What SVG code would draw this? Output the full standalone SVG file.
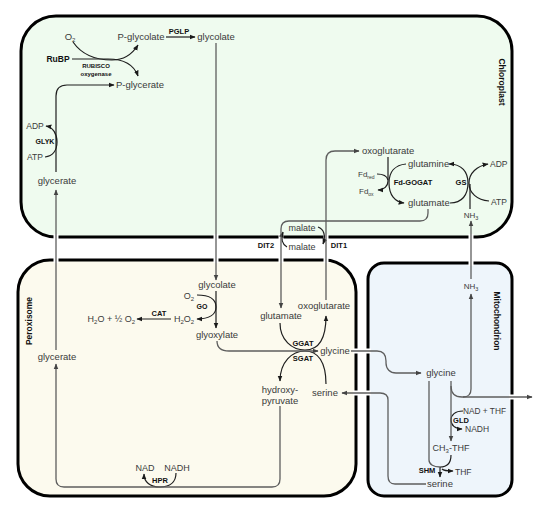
<svg xmlns="http://www.w3.org/2000/svg" width="535" height="509" viewBox="0 0 535 509">
<defs>
<marker id="ab" viewBox="0 0 10 10" refX="9" refY="5" markerWidth="6" markerHeight="6" orient="auto" markerUnits="userSpaceOnUse"><path d="M0,1 L10,5 L0,9 z" fill="#1a1a1a"/></marker>
<marker id="ag" viewBox="0 0 10 10" refX="9" refY="5" markerWidth="6" markerHeight="6" orient="auto" markerUnits="userSpaceOnUse"><path d="M0,1 L10,5 L0,9 z" fill="#444"/></marker>
<style>
.box{stroke:#000;stroke-width:3}
.t{font-family:"Liberation Sans",Arial,sans-serif;font-size:9.5px;fill:#3a3a3a;text-anchor:middle}
.st{text-anchor:start}
.en{text-anchor:end}
.sm{font-size:8.5px}
.s9{font-size:9px}
.s8{font-size:8px}
.b{font-family:"Liberation Sans",Arial,sans-serif;font-weight:bold;font-size:7.5px;fill:#111;text-anchor:middle}
.lab{font-family:"Liberation Sans",Arial,sans-serif;font-weight:bold;font-size:8.5px;fill:#111;text-anchor:middle}
.k{fill:none;stroke:#1e1e1e;stroke-width:1.2;marker-end:url(#ab)}
.g{fill:none;stroke:#5e5e5e;stroke-width:1.3;marker-end:url(#ag)}
.n{marker-end:none}
.gap{fill:#fff}
</style>
</defs>

<g id="chloroplast"><rect class="box" x="21" y="16" width="491" height="221" rx="35" fill="#effbef"/>
<text class="lab" transform="translate(502,82) rotate(90)" dy="3">Chloroplast</text></g>
<g id="peroxisome"><rect class="box" x="18" y="260" width="338" height="236" rx="32" fill="#fcfaee"/>
<text class="lab" transform="translate(29,321) rotate(-90)" dy="3">Peroxisome</text></g>
<g id="mitochondrion"><rect class="box" x="368" y="263" width="144" height="233" rx="16" fill="#eef5fb"/>
<text class="lab" transform="translate(497,321) rotate(90)" dy="3">Mitochondrion</text></g>

<g id="membrane-gaps">
<rect class="gap" x="53.5" y="234" width="5" height="6"/>
<rect class="gap" x="213.5" y="234" width="5" height="6"/>
<rect class="gap" x="278.5" y="234" width="5" height="6"/>
<rect class="gap" x="323.5" y="234" width="5" height="6"/>
<rect class="gap" x="468.5" y="234" width="5" height="6"/>
<rect class="gap" x="53.5" y="257" width="5" height="6"/>
<rect class="gap" x="213.5" y="257" width="5" height="6"/>
<rect class="gap" x="278.5" y="257" width="5" height="6"/>
<rect class="gap" x="323.5" y="257" width="5" height="6"/>
<rect class="gap" x="468.5" y="260" width="5" height="6"/>
<rect class="gap" x="353" y="348.5" width="6" height="5"/>
<rect class="gap" x="365" y="348.5" width="6" height="5"/>
<rect class="gap" x="353" y="390.5" width="6" height="5"/>
<rect class="gap" x="365" y="390.5" width="6" height="5"/>
<rect class="gap" x="509" y="394.5" width="6" height="5"/>
</g>

<g id="connectors">
<path class="k" d="M166,37 H195"/>
<path class="k" d="M73,42 C82,55 97,60 112,60 C124,60 133,53 138,45"/>
<path class="k" d="M72,59 H108 C124,59 134,65 138,76"/>
<path class="k" d="M171,319 H137"/>
<path class="k" d="M197,295 C211,295 216,300 216,307 C216,314 210,319 197,319"/>
<path class="k" d="M45,157 C53,156 57,150 57,142 C57,134 53,127 46,126"/>
<path class="k" d="M176,473 C176,482 170,487 160,487 C150,487 144,482 144,474"/>
<path class="k" d="M280,323 C280,340 292,350 305,350 C318,350 326,340 326,316"/>
<path class="k" d="M326,384 C326,362 318,351 305,351 C292,351 280,362 280,381"/>
<path class="k" d="M388,157 V181 C388,186 384,190 378,190"/>
<path class="k n" d="M377,174 C383,174 387,176 388,180"/>
<path class="k" d="M406,164 C395,165 389,172 389,183 C389,195 395,202 404,203"/>
<path class="k" d="M450,203 C462,203 468,195 468,183 C468,172 462,164 449,164"/>
<path class="k" d="M489,201 C477,200 469,193 469,183 C469,173 477,166 488,164"/>
<path class="k n" d="M470,209 V184"/>
<path class="k" d="M463,411 C455,411 451,415 451,420 C451,425 455,429 462,429"/>
<path class="k n" d="M451,455 C451,463 447,467 440,467"/>
<path class="k" d="M440,467 V477"/>
<path class="k" d="M442,469 C444,471 447,471 453,471"/>
<path class="k" d="M318,227 C324,229 326,236 323,244"/>
<path class="k" d="M287,247 C282,244 281,238 283,232"/>
<path class="k" d="M56,172 V96 C56,89 60,85 67,85 H114"/>
<path class="k" d="M216,291 V328"/>
<path class="g" d="M216,43 V280"/>
<path class="g" d="M217,341 C217,348 221,351 229,351 H318"/>
<path class="g" d="M56,350 V190"/>
<path class="g" d="M280,406 V479 C280,484 277,487 272,487 H64 C59,487 56,484 56,479 V364"/>
<path class="g" d="M428,209 V213 C428,218 425,221 420,221 H289 C284,221 281,224 281,229 V308"/>
<path class="g" d="M326,300 V160 C326,154 329,151 335,151 H359"/>
<path class="g" d="M351,351 H377 C383,351 386,355 386,361 V363 C386,369 390,373 396,373 H421"/>
<path class="g" d="M426,484 H395 C390,484 388,481 388,476 V400 C388,395 385,393 380,393 H342"/>
<path class="g n" d="M429,381 V460 C429,464 433,467 440,467"/>
<path class="g" d="M451,381 V441"/>
<path class="g" d="M451,386 C451,393 455,397 462,397 H532"/>
<path class="g" d="M463,397 C468,397 471,394 471,389 V294"/>
<path class="g" d="M471,279 V221"/>
</g>

<g id="n-o2-chl"><text class="t" x="70" y="40">O<tspan style="font-size:6px" dy="2">2</tspan></text></g>
<g id="n-pglycolate"><text class="t" x="141" y="40">P-glycolate</text></g>
<g id="e-pglp"><text class="b" x="179" y="33.5">PGLP</text></g>
<g id="n-glycolate-chl"><text class="t" x="216" y="40">glycolate</text></g>
<g id="n-rubp"><text class="b" x="58" y="62" style="font-size:8.5px">RuBP</text></g>
<g id="e-rubisco"><text class="b" x="96" y="68" style="font-size:6px">RUBISCO</text><text class="b" x="96" y="76" style="font-size:6px">oxygenase</text></g>
<g id="n-pglycerate"><text class="t" x="140" y="88">P-glycerate</text></g>
<g id="n-adp-glyk"><text class="t sm" x="35" y="129">ADP</text></g>
<g id="e-glyk"><text class="b" x="45" y="144" style="font-size:7px">GLYK</text></g>
<g id="n-atp-glyk"><text class="t sm" x="35" y="160">ATP</text></g>
<g id="n-glycerate-chl"><text class="t" x="57" y="184">glycerate</text></g>
<g id="n-oxoglutarate-chl"><text class="t st" x="362" y="154">oxoglutarate</text></g>
<g id="n-glutamine"><text class="t st" x="408" y="167">glutamine</text></g>
<g id="n-glutamate-chl"><text class="t st" x="408" y="206">glutamate</text></g>
<g id="n-fdred"><text class="t st s8" x="358" y="177">Fd<tspan style="font-size:5px" dy="1.5">red</tspan></text></g>
<g id="n-fdox"><text class="t st s8" x="359" y="194">Fd<tspan style="font-size:5px" dy="1.5">ox</tspan></text></g>
<g id="e-fdgogat"><text class="b" x="413" y="184.5">Fd-GOGAT</text></g>
<g id="e-gs"><text class="b" x="461" y="184.5">GS</text></g>
<g id="n-adp-gs"><text class="t sm st" x="490" y="167">ADP</text></g>
<g id="n-atp-gs"><text class="t sm st" x="491" y="205">ATP</text></g>
<g id="n-nh3-chl"><text class="t s8" x="471" y="218">NH<tspan style="font-size:5.5px" dy="1.5">3</tspan></text></g>
<g id="n-malate-chl"><text class="t s9" x="302" y="231">malate</text></g>
<g id="n-malate-cyt"><text class="t s9" x="302" y="250">malate</text></g>
<g id="e-dit2"><text class="b" x="266" y="248">DIT2</text></g>
<g id="e-dit1"><text class="b" x="339" y="248">DIT1</text></g>

<g id="n-glycolate-per"><text class="t" x="217" y="288">glycolate</text></g>
<g id="n-o2-per"><text class="t s9" x="189" y="299">O<tspan style="font-size:6px" dy="2">2</tspan></text></g>
<g id="e-go"><text class="b" x="202" y="308.5" style="font-size:7px">GO</text></g>
<g id="n-h2o2"><text class="t s9" x="184" y="322">H<tspan style="font-size:6px" dy="2">2</tspan><tspan dy="-2">O</tspan><tspan style="font-size:6px" dy="2">2</tspan></text></g>
<g id="e-cat"><text class="b" x="159" y="315.5">CAT</text></g>
<g id="n-h2o"><text class="t s9 en" x="135" y="322">H<tspan style="font-size:6px" dy="2">2</tspan><tspan dy="-2">O + ½ O</tspan><tspan style="font-size:6px" dy="2">2</tspan></text></g>
<g id="n-glyoxylate"><text class="t" x="217" y="338">glyoxylate</text></g>
<g id="n-glutamate-per"><text class="t" x="281" y="319">glutamate</text></g>
<g id="n-oxoglutarate-per"><text class="t" x="324" y="309">oxoglutarate</text></g>
<g id="e-ggat"><text class="b" x="303" y="345.5">GGAT</text></g>
<g id="e-sgat"><text class="b" x="303" y="360.5">SGAT</text></g>
<g id="n-glycine-per"><text class="t" x="335" y="354">glycine</text></g>
<g id="n-hydroxypyruvate"><text class="t" x="280" y="393">hydroxy-</text><text class="t" x="280" y="404">pyruvate</text></g>
<g id="n-serine-per"><text class="t" x="325" y="396">serine</text></g>
<g id="n-glycerate-per"><text class="t" x="57" y="360">glycerate</text></g>
<g id="n-nad-hpr"><text class="t s9" x="145" y="471">NAD</text></g>
<g id="n-nadh-hpr"><text class="t s9" x="177" y="471">NADH</text></g>
<g id="e-hpr"><text class="b" x="160" y="482.5">HPR</text></g>

<g id="n-nh3-mit"><text class="t s8" x="471" y="289">NH<tspan style="font-size:5.5px" dy="1.5">3</tspan></text></g>
<g id="n-glycine-mit"><text class="t" x="441" y="376">glycine</text></g>
<g id="n-nadthf"><text class="t st" x="463" y="414" style="font-size:8.3px">NAD + THF</text></g>
<g id="e-gld"><text class="b" x="461" y="422.5">GLD</text></g>
<g id="n-nadh-gld"><text class="t st sm" x="465" y="432">NADH</text></g>
<g id="n-ch3thf"><text class="t s9" x="451" y="451">CH<tspan style="font-size:6px" dy="2">3</tspan><tspan dy="-2">-THF</tspan></text></g>
<g id="e-shm"><text class="b" x="427" y="472.5">SHM</text></g>
<g id="n-thf"><text class="t st sm" x="455" y="474.5">THF</text></g>
<g id="n-serine-mit"><text class="t" x="440" y="487">serine</text></g>
</svg>
